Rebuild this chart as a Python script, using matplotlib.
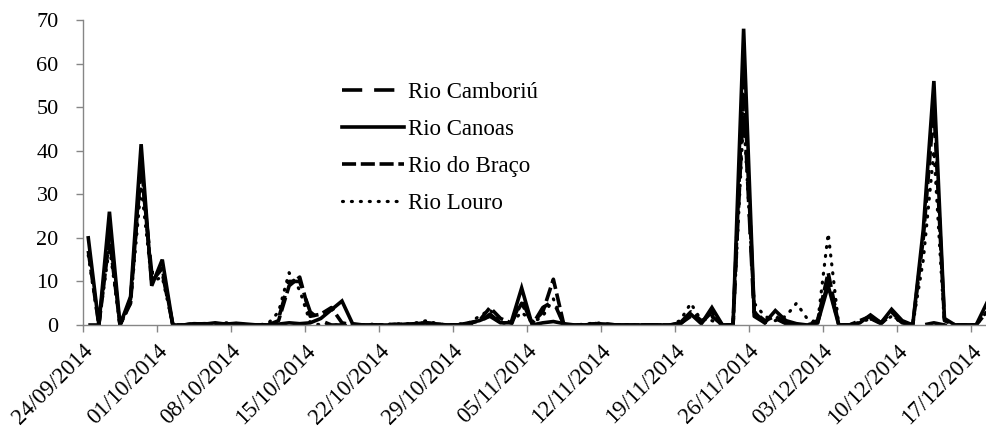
import matplotlib
matplotlib.use("Agg")
import matplotlib.pyplot as plt
import matplotlib.transforms as mtransforms
import pandas as pd

plt.rcParams["font.family"] = ["Liberation Serif", "DejaVu Serif"]

# Daily series, 24/09/2014 onwards
start_date = "2014-09-24"

rio_camboriu = [
    0, 0, 22, 0, 6, 36, 12, 12, 0, 0,
    0.2, 0.3, 0.2, 0.3, 0.2, 0, 0, 0, 1.5, 10,
    10, 3, 1, 0, 0, 0, 0, 0, 0, 0.2,
    0, 0.3, 0.5, 0.2, 0, 0, 0.3, 0.5, 2.5, 0.5,
    0, 6, 0, 4, 5.5, 0, 0, 0, 0.3, 0.2,
    0, 0, 0, 0, 0, 0, 0.3, 2, 0.5, 3,
    0, 0, 52, 2, 0.5, 1.5, 0.3, 0, 0, 0.5,
    10, 0, 0, 0.5, 1.5, 0.3, 2.5, 0.5, 0, 0,
    0.5, 0, 0, 0, 0, 0,
]

rio_canoas = [
    20, 0, 26, 0, 6.5, 41.5, 9, 15, 0, 0,
    0.3, 0.2, 0.5, 0.2, 0.4, 0.2, 0, 0, 0.2, 0.5,
    0.3, 0.5, 1.5, 3.5, 5.5, 0.3, 0, 0, 0, 0,
    0.2, 0.3, 0.5, 0.2, 0, 0, 0.5, 1, 2, 0.5,
    0.5, 8.5, 0, 0.5, 0.8, 0.3, 0, 0, 0.3, 0.2,
    0, 0, 0, 0, 0, 0, 0.2, 2.5, 0.3, 4,
    0, 0, 68, 3, 0.5, 3.3, 1, 0.3, 0, 0.5,
    9, 0, 0, 0.5, 2.3, 0.5, 3.6, 1, 0, 22,
    56, 1.5, 0, 0, 0, 5,
]

rio_do_braco = [
    17, 0, 20, 0, 5, 38, 10, 13, 0, 0,
    0.3, 0.2, 0.3, 0.2, 0.3, 0, 0, 0, 1, 9,
    11, 2, 2.5, 4, 0.5, 0, 0, 0, 0, 0,
    0.2, 0, 0.3, 0, 0, 0, 0.3, 1, 4, 1.5,
    0.5, 5, 0.5, 3, 10.5, 0, 0, 0, 0.2, 0,
    0, 0, 0, 0, 0, 0, 0.5, 3, 1, 2,
    0, 0, 58, 3, 1, 2, 0.5, 0, 0, 1,
    12, 0, 0, 1, 2, 0.5, 3, 0.5, 0, 20,
    50, 1, 0, 0, 0, 3,
]

rio_louro = [
    16, 0, 18, 0, 5, 32, 10, 11, 0, 0,
    0.2, 0.3, 0.2, 0.5, 0.3, 0, 0, 0.3, 3, 12,
    8, 0.5, 0, 0, 0, 0, 0, 0.2, 0, 0.3,
    0.2, 0.5, 1, 0.3, 0, 0.2, 0.5, 2, 3.5, 0.5,
    0.3, 3, 0.5, 2, 6, 0, 0, 0.2, 0.5, 0.3,
    0, 0, 0, 0, 0, 0, 1, 5, 1, 1,
    0, 0, 48, 5, 2, 1, 2, 5, 1.5, 0.5,
    21, 0, 0, 0.5, 1.5, 0.5, 2, 0.5, 0, 15,
    40, 0, 0, 0, 0, 3,
]

series_names = ["Rio Camboriú", "Rio Canoas", "Rio do Braço", "Rio Louro"]

dates = pd.date_range(start_date, periods=len(rio_canoas), freq="D")
day_pos = [i + 0.5 for i in range(len(dates))]  # points centred in each day slot
tick_pos = list(range(0, len(dates), 7))
tick_labels = [dates[i].strftime("%d/%m/%Y") for i in tick_pos]

fig = plt.figure(figsize=(9.86, 4.33), dpi=100)
ax = fig.add_axes([83 / 986, 1 - 325 / 433, (986 - 83) / 986, (325 - 20) / 433])

lw = 2.6
ax.plot(day_pos, rio_camboriu, color="black", lw=lw, dashes=(5.6, 3.3),
        label=series_names[0])
ax.plot(day_pos, rio_canoas, color="black", lw=lw, solid_joinstyle="miter",
        label=series_names[1])
ax.plot(day_pos, rio_do_braco, color="black", lw=lw, dashes=(3.9, 1.3),
        label=series_names[2])
ax.plot(day_pos, rio_louro, color="black", lw=2.3, dashes=(0.3, 2.5),
        dash_capstyle="round", label=series_names[3])

ax.set_xlim(0, (986 - 83) / 10.57)
ax.set_ylim(0, 70)
ax.set_yticks(range(0, 71, 10))
ax.set_xticks(tick_pos)
ax.set_xticklabels(tick_labels, rotation=45, ha="right", va="center",
                   rotation_mode="anchor", fontsize=16.5)

for spine in ("top", "right"):
    ax.spines[spine].set_visible(False)
for spine in ("left", "bottom"):
    ax.spines[spine].set_color("#868686")
    ax.spines[spine].set_linewidth(1.0)

ax.tick_params(axis="both", colors="#868686", labelcolor="black",
               length=5, width=1.0, direction="out")
ax.tick_params(axis="y", pad=12.5, labelsize=16)
ax.tick_params(axis="x", pad=4)

shift = mtransforms.ScaledTranslation(7 / 100, -10 / 100, fig.dpi_scale_trans)
for lbl in ax.get_xticklabels():
    lbl.set_transform(lbl.get_transform() + shift)

leg = ax.legend(loc="upper left", bbox_to_anchor=(342 / 986, 1 - 82 / 433),
                bbox_transform=fig.transFigure, frameon=False, fontsize=16.5,
                handlelength=2.7, handletextpad=0.2, labelspacing=0.70,
                borderpad=0, borderaxespad=0)

fig.savefig("out.png", dpi=100)
